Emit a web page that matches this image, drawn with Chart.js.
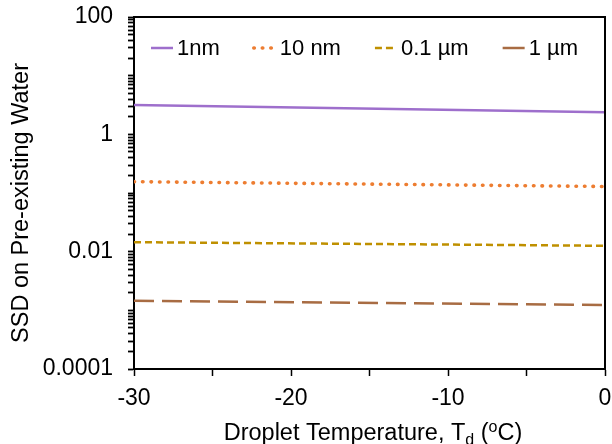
<!DOCTYPE html>
<html>
<head>
<meta charset="utf-8">
<script src="https://cdn.jsdelivr.net/npm/chart.js@4"></script>
<style>
  html, body { margin: 0; padding: 0; background: #fff; }
  #wrap { width: 612px; height: 444px; }
</style>
</head>
<body>
<div id="wrap"><canvas id="ssdChart" width="612" height="444"></canvas></div>
<script>
// data
const temps = [-30, 0];
const ssd1nm = [3.17, 2.38];
const ssd10nm = [0.156, 0.129];
const ssd01um = [0.0145, 0.0126];
const ssd1um = [0.00145, 0.00123];

const seriesLabels = ['1nm', '10 nm', '0.1 \u00b5m', '1 \u00b5m'];
const xTickLabels = [-30, -20, -10, 0];
const yTickLabels = [0.0001, 0.01, 1, 100];

const FONT = '"Liberation Sans", Arial, sans-serif';

function pts(ys) {
  return temps.map((t, i) => ({ x: t, y: ys[i] }));
}

const datasets = [
  { label: seriesLabels[0], data: pts(ssd1nm), borderColor: '#9e6fcc', borderWidth: 2.5, borderDash: [] },
  { label: seriesLabels[1], data: pts(ssd10nm), borderColor: '#ed7d31', borderWidth: 3.6, borderDash: [0.5, 8], borderCapStyle: 'round' },
  { label: seriesLabels[2], data: pts(ssd01um), borderColor: '#bf9000', borderWidth: 2.5, borderDash: [7, 4] },
  { label: seriesLabels[3], data: pts(ssd1um), borderColor: '#a86c43', borderWidth: 2.5, borderDash: [20, 8] }
].map(d => Object.assign({ pointRadius: 0, fill: false, tension: 0 }, d));

// legend inside the plot + box edges + axis titles
const extras = {
  id: 'extras',
  afterDraw(chart) {
    const ctx = chart.ctx;
    const a = chart.chartArea;
    ctx.save();

    // top and right edges of the box
    ctx.strokeStyle = '#000';
    ctx.lineWidth = 2;
    ctx.beginPath();
    ctx.moveTo(a.left, a.top);
    ctx.lineTo(a.right, a.top);
    ctx.lineTo(a.right, a.bottom);
    ctx.stroke();

    // legend
    ctx.font = '22px ' + FONT;
    ctx.textBaseline = 'middle';
    ctx.fillStyle = '#000';
    let x = 151;
    const y = 48;
    chart.data.datasets.forEach(ds => {
      ctx.save();
      ctx.strokeStyle = ds.borderColor;
      ctx.lineWidth = ds.borderWidth;
      ctx.lineCap = ds.borderCapStyle || 'butt';
      ctx.setLineDash(ds.borderDash.length && ds.borderDash[0] > 10 ? [] : ds.borderDash);
      ctx.beginPath();
      ctx.moveTo(x, y);
      ctx.lineTo(x + 22, y);
      ctx.stroke();
      ctx.restore();
      ctx.fillText(ds.label, x + 26, y + 1);
      x += 26 + ctx.measureText(ds.label).width + 34;
    });

    // y title
    ctx.save();
    ctx.translate(22, 203);
    ctx.rotate(-Math.PI / 2);
    ctx.textAlign = 'center';
    ctx.font = '23.5px ' + FONT;
    ctx.fillText('SSD on Pre-existing Water', 0, 0);
    ctx.restore();

    // x title with sub/superscripts
    const parts = [
      { t: 'Droplet Temperature, T', s: 23.5, dy: 0 },
      { t: 'd', s: 16, dy: 5 },
      { t: ' (', s: 23.5, dy: 0 },
      { t: 'o', s: 16, dy: -8 },
      { t: 'C)', s: 23.5, dy: 0 }
    ];
    ctx.textBaseline = 'alphabetic';
    ctx.textAlign = 'left';
    let total = 0;
    parts.forEach(p => { ctx.font = p.s + 'px ' + FONT; p.w = ctx.measureText(p.t).width; total += p.w; });
    let tx = 373 - total / 2;
    parts.forEach(p => {
      ctx.font = p.s + 'px ' + FONT;
      ctx.fillText(p.t, tx, 440 + p.dy);
      tx += p.w;
    });
    ctx.restore();
  }
};

const config = {
  type: 'line',
  data: { datasets },
  options: {
    responsive: false,
    animation: false,
    layout: { padding: { top: 17, right: 7, left: 0, bottom: 0 } },
    plugins: { legend: { display: false }, tooltip: { enabled: false } },
    scales: {
      x: {
        type: 'linear',
        min: -30,
        max: 0,
        afterFit(scale) {
          scale.height = 75;
          scale.paddingLeft = 0;
          scale.paddingRight = 0;
        },
        afterBuildTicks(scale) {
          const t = [];
          for (let v = -30; v <= 0; v += 5) t.push({ value: v });
          scale.ticks = t;
        },
        ticks: {
          autoSkip: false,
          maxRotation: 0,
          padding: 9,
          color: '#000',
          font: { family: FONT, size: 23 },
          callback: v => xTickLabels.includes(v) ? String(v) : ''
        },
        grid: { drawOnChartArea: false, drawTicks: true, tickLength: 7, tickColor: '#000', tickWidth: 1.5 },
        border: { color: '#000', width: 2 }
      },
      y: {
        type: 'logarithmic',
        min: 0.0001,
        max: 100,
        afterFit(scale) {
          scale.width = 134;
          scale.paddingTop = 0;
          scale.paddingBottom = 0;
        },
        afterBuildTicks(scale) {
          const t = [];
          for (let d = -4; d <= 2; d++) {
            for (let k = 1; k <= 9; k++) {
              const v = k * Math.pow(10, d);
              if (v > 100.0001) break;
              t.push({ value: v });
            }
          }
          scale.ticks = t;
        },
        ticks: {
          autoSkip: false,
          padding: 15,
          color: '#000',
          font: { family: FONT, size: 23 },
          callback: v => {
            const hit = yTickLabels.find(l => Math.abs(v - l) / l < 1e-6);
            return hit !== undefined ? String(hit) : '';
          }
        },
        grid: { drawOnChartArea: false, drawTicks: true, tickLength: 6, tickColor: '#000', tickWidth: 1.8 },
        border: { color: '#000', width: 2 }
      }
    }
  },
  plugins: [extras]
};

const ctx = document.getElementById('ssdChart').getContext('2d');
new Chart(ctx, config);
</script>
</body>
</html>
